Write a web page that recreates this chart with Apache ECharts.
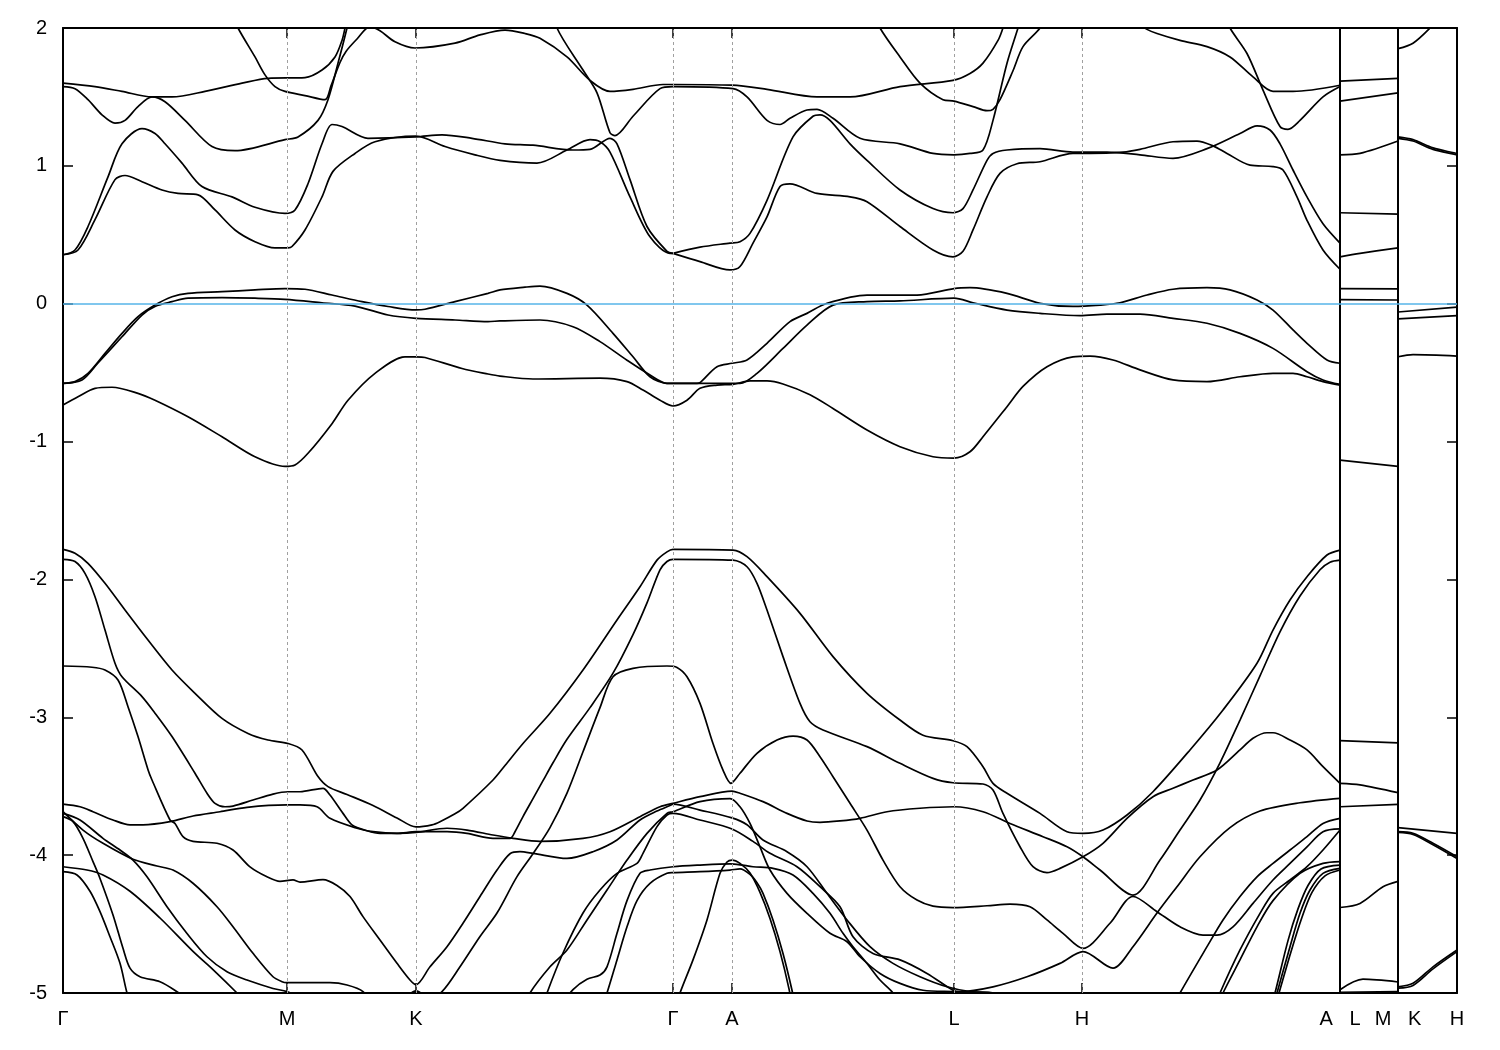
<!DOCTYPE html>
<html><head><meta charset="utf-8">
<script src="https://cdn.jsdelivr.net/npm/echarts@6/dist/echarts.min.js"></script>
<style>html,body{margin:0;padding:0;background:#fff}#c{width:1500px;height:1050px}</style>
</head><body><div id="c"></div>
<script>
// ---- k-path ticks (path distance units) ----
const kTicks = [0, 224, 353, 610, 669, 891, 1019, 1277, 1335, 1394];
const kLabels = ['\u0393', 'M', 'K', '\u0393', 'A', 'L', 'H', 'A   L', 'M   K', 'H'];
const fermiLevel = 0;

// ---- bands along Γ-M-K-Γ-A-L-H-A : [k, E(eV)] ----
const cA = [[0,1.60],[32,1.575],[59,1.54],[89,1.50],[109,1.50],[142,1.54],[179,1.60],[205,1.635],[242,1.64],[259,1.695],[272,1.79],[279,1.91],[282,2.0],[290,2.3]];
const cB = [[0,1.575],[12,1.56],[25,1.48],[39,1.37],[52,1.31],[62,1.33],[75,1.43],[89,1.50],[102,1.465],[122,1.33],[149,1.14],[172,1.11],[222,1.19],[235,1.21],[255,1.33],[265,1.48],[275,1.745],[284,2.0],[290,2.2]];
const cC = [[162,2.2],[175,2.0],[192,1.79],[202,1.66],[212,1.575],[222,1.54],[242,1.51],[262,1.48],[268,1.58],[277,1.75],[283,1.83],[294,1.92],[307,2.01],[317,1.98],[332,1.90],[352,1.855],[392,1.89],[417,1.95],[442,1.985],[462,1.96],[477,1.925],[504,1.79],[527,1.62],[547,1.54],[570,1.555],[600,1.59],[610,1.59],[669,1.585],[704,1.555],[754,1.50],[787,1.50],[837,1.575],[890,1.62],[907,1.67],[920,1.745],[935,1.91],[940,2.0],[945,2.1]];
const cD = [[489,2.2],[494,2.0],[520,1.695],[534,1.53],[547,1.24],[552,1.22],[570,1.36],[597,1.56],[610,1.575],[670,1.56],[684,1.50],[704,1.33],[717,1.30],[727,1.345],[744,1.405],[754,1.41],[770,1.345],[797,1.20],[837,1.16],[870,1.09],[891,1.08],[907,1.09],[920,1.115],[930,1.33],[944,1.745],[955,2.0],[959,2.1]];
const cE = [[0,0.355],[12,0.39],[25,0.56],[45,0.92],[59,1.16],[79,1.27],[92,1.235],[102,1.16],[119,1.02],[139,0.85],[169,0.775],[192,0.70],[222,0.655],[232,0.68],[245,0.87],[259,1.16],[269,1.30],[279,1.285],[305,1.20],[353,1.21],[379,1.225],[409,1.20],[442,1.16],[470,1.15],[510,1.115],[527,1.12],[547,1.20],[554,1.16],[567,0.90],[584,0.56],[604,0.38],[610,0.365]];
const cF = [[0,0.355],[15,0.39],[32,0.61],[52,0.90],[62,0.93],[79,0.885],[99,0.825],[115,0.80],[135,0.79],[152,0.68],[172,0.535],[192,0.45],[212,0.405],[225,0.405],[229,0.415],[242,0.535],[259,0.775],[270,0.96],[292,1.09],[312,1.175],[353,1.215],[382,1.14],[412,1.08],[437,1.04],[474,1.02],[504,1.115],[527,1.19],[537,1.175],[547,1.10],[567,0.775],[587,0.485],[607,0.365],[610,0.365]];
const cG = [[610,0.365],[637,0.41],[667,0.44],[677,0.45],[687,0.51],[704,0.75],[730,1.21],[750,1.36],[757,1.37],[767,1.33],[787,1.16],[804,1.04],[837,0.825],[870,0.69],[890,0.66],[900,0.69],[910,0.825],[924,1.04],[930,1.09],[944,1.115],[977,1.125],[1010,1.10],[1044,1.10],[1077,1.08],[1110,1.055],[1144,1.125],[1177,1.235],[1194,1.29],[1207,1.26],[1217,1.16],[1230,0.97],[1244,0.775],[1260,0.58],[1277,0.44]];
const cH = [[610,0.365],[637,0.305],[667,0.245],[677,0.27],[690,0.44],[704,0.63],[717,0.85],[727,0.87],[754,0.80],[787,0.775],[804,0.74],[837,0.56],[870,0.39],[890,0.34],[900,0.38],[910,0.535],[924,0.775],[937,0.945],[954,1.015],[977,1.03],[1010,1.09],[1027,1.09],[1060,1.10],[1077,1.12],[1110,1.175],[1134,1.18],[1150,1.145],[1164,1.09],[1187,1.005],[1210,0.995],[1220,0.97],[1234,0.775],[1244,0.605],[1260,0.39],[1277,0.25]];
const cI = [[812,2.1],[817,2.0],[837,1.79],[857,1.60],[880,1.48],[891,1.47],[910,1.43],[924,1.40],[930,1.41],[937,1.48],[950,1.69],[960,1.865],[977,2.0],[983,2.1]];
const cJ = [[1072,2.05],[1084,1.99],[1094,1.96],[1117,1.91],[1144,1.865],[1167,1.79],[1190,1.645],[1210,1.54],[1230,1.54],[1277,1.585]];
const cK = [[1162,2.1],[1167,2.0],[1184,1.815],[1200,1.55],[1217,1.285],[1225,1.265],[1237,1.33],[1260,1.50],[1277,1.575]];

const vP1 = [[0,-0.578],[12,-0.565],[25,-0.505],[42,-0.36],[59,-0.215],[75,-0.094],[92,-0.01],[109,0.05],[125,0.075],[159,0.087],[192,0.10],[222,0.11],[242,0.105],[269,0.063],[299,0.015],[325,-0.02],[353,-0.045],[362,-0.04],[392,0.015],[425,0.075],[437,0.10],[462,0.12],[477,0.128],[504,0.075],[524,-0.01],[550,-0.215],[570,-0.385],[587,-0.53],[604,-0.578],[610,-0.578],[634,-0.578],[637,-0.573],[654,-0.457],[669,-0.432],[684,-0.408],[704,-0.287],[727,-0.13],[744,-0.07],[764,0.003],[804,0.063],[854,0.063],[891,0.11],[907,0.116],[944,0.075],[977,0.003],[1010,-0.02],[1037,-0.01],[1057,0.007],[1084,0.063],[1110,0.105],[1144,0.116],[1167,0.10],[1194,0.027],[1210,-0.046],[1230,-0.19],[1244,-0.287],[1264,-0.408],[1277,-0.432]];
const vP2 = [[0,-0.578],[19,-0.553],[35,-0.43],[59,-0.24],[79,-0.082],[92,-0.02],[109,0.015],[125,0.04],[159,0.044],[192,0.04],[222,0.032],[259,0.007],[292,-0.017],[325,-0.082],[353,-0.106],[392,-0.118],[425,-0.13],[437,-0.125],[477,-0.118],[510,-0.167],[537,-0.275],[564,-0.41],[587,-0.517],[604,-0.578],[610,-0.578],[634,-0.578],[677,-0.578],[694,-0.505],[720,-0.324],[744,-0.155],[770,-0.01],[804,0.015],[837,0.02],[891,0.04],[910,0.007],[944,-0.046],[977,-0.07],[1017,-0.087],[1044,-0.075],[1077,-0.075],[1110,-0.106],[1144,-0.142],[1177,-0.215],[1210,-0.324],[1244,-0.493],[1260,-0.553],[1277,-0.585]];
const vP3 = [[0,-0.735],[15,-0.675],[32,-0.614],[49,-0.606],[75,-0.65],[92,-0.70],[125,-0.82],[159,-0.965],[192,-1.11],[222,-1.18],[232,-1.17],[245,-1.085],[269,-0.87],[285,-0.70],[312,-0.505],[342,-0.385],[353,-0.385],[362,-0.39],[399,-0.47],[425,-0.51],[437,-0.525],[470,-0.546],[537,-0.54],[564,-0.565],[580,-0.626],[597,-0.70],[610,-0.742],[624,-0.70],[637,-0.614],[654,-0.59],[670,-0.585],[687,-0.56],[704,-0.56],[720,-0.582],[747,-0.66],[770,-0.76],[804,-0.916],[837,-1.037],[870,-1.11],[891,-1.12],[907,-1.074],[920,-0.965],[944,-0.747],[960,-0.60],[984,-0.457],[1010,-0.385],[1027,-0.38],[1050,-0.408],[1077,-0.48],[1110,-0.553],[1144,-0.565],[1177,-0.53],[1210,-0.505],[1230,-0.505],[1244,-0.53],[1260,-0.565],[1277,-0.59]];

const vQ1 = [[0,-1.782],[12,-1.81],[25,-1.883],[42,-2.028],[62,-2.222],[85,-2.44],[109,-2.657],[132,-2.826],[159,-3.008],[185,-3.117],[205,-3.165],[225,-3.19],[239,-3.237],[255,-3.43],[265,-3.503],[284,-3.56],[310,-3.64],[334,-3.73],[353,-3.795],[369,-3.78],[377,-3.757],[392,-3.70],[400,-3.66],[430,-3.455],[442,-3.35],[460,-3.19],[487,-2.971],[520,-2.657],[554,-2.294],[577,-2.053],[594,-1.86],[604,-1.80],[610,-1.782],[670,-1.787],[684,-1.835],[704,-1.98],[737,-2.246],[770,-2.56],[804,-2.826],[837,-3.02],[860,-3.13],[890,-3.17],[904,-3.213],[920,-3.358],[930,-3.479],[944,-3.551],[977,-3.697],[1004,-3.83],[1020,-3.842],[1040,-3.818],[1064,-3.709],[1090,-3.54],[1127,-3.237],[1160,-2.947],[1194,-2.608],[1210,-2.367],[1227,-2.149],[1244,-1.98],[1264,-1.823],[1277,-1.787]];
const vQ2 = [[0,-1.854],[12,-1.87],[22,-1.956],[32,-2.125],[42,-2.367],[52,-2.608],[59,-2.706],[79,-2.85],[92,-2.97],[109,-3.14],[132,-3.406],[144,-3.551],[152,-3.624],[162,-3.649],[170,-3.644],[190,-3.60],[210,-3.557],[225,-3.54],[237,-3.54],[260,-3.515],[267,-3.564],[280,-3.697],[289,-3.78],[304,-3.823],[317,-3.842],[334,-3.842],[353,-3.83],[384,-3.83],[404,-3.842],[430,-3.878],[447,-3.878],[452,-3.83],[460,-3.72],[470,-3.59],[480,-3.46],[490,-3.33],[504,-3.16],[527,-2.93],[550,-2.68],[570,-2.40],[584,-2.17],[597,-1.93],[604,-1.87],[610,-1.854],[670,-1.86],[684,-1.908],[694,-2.028],[704,-2.222],[720,-2.56],[737,-2.899],[747,-3.032],[760,-3.092],[804,-3.213],[837,-3.334],[870,-3.443],[890,-3.475],[920,-3.484],[930,-3.527],[940,-3.697],[957,-3.939],[970,-4.084],[984,-4.127],[997,-4.096],[1020,-4.012],[1040,-3.914],[1064,-3.733],[1090,-3.576],[1110,-3.515],[1130,-3.455],[1154,-3.383],[1177,-3.237],[1190,-3.152],[1204,-3.112],[1210,-3.112],[1227,-3.165],[1244,-3.237],[1260,-3.358],[1277,-3.479]];
const vQ3 = [[0,-2.628],[29,-2.637],[42,-2.657],[55,-2.73],[65,-2.923],[75,-3.14],[85,-3.38],[89,-3.455],[107,-3.745],[112,-3.77],[120,-3.866],[130,-3.90],[154,-3.914],[170,-3.963],[187,-4.085],[204,-4.157],[217,-4.19],[230,-4.18],[237,-4.195],[260,-4.178],[274,-4.22],[287,-4.30],[300,-4.446],[317,-4.616],[334,-4.785],[347,-4.906],[353,-4.94],[367,-4.81],[384,-4.664],[400,-4.494],[417,-4.30],[434,-4.108],[447,-3.99],[457,-3.975],[470,-3.987],[504,-4.024],[530,-3.975],[554,-3.89],[577,-3.745],[594,-3.68],[607,-3.64],[610,-3.63],[637,-3.673],[669,-3.73],[684,-3.78],[700,-3.89],[724,-3.975],[744,-4.084],[764,-4.277],[784,-4.47],[807,-4.664],[830,-4.785],[857,-4.882],[884,-4.955],[907,-4.99],[930,-5.0],[950,-5.1]];
const vQ4 = [[357,-5.1],[379,-4.99],[397,-4.81],[417,-4.59],[434,-4.42],[454,-4.156],[470,-3.99],[487,-3.80],[504,-3.55],[520,-3.25],[537,-2.93],[550,-2.706],[570,-2.645],[604,-2.628],[614,-2.638],[624,-2.706],[637,-2.899],[650,-3.19],[660,-3.383],[668,-3.479],[677,-3.406],[694,-3.261],[714,-3.165],[730,-3.136],[744,-3.165],[757,-3.286],[770,-3.431],[787,-3.624],[804,-3.818],[820,-4.036],[837,-4.229],[854,-4.326],[870,-4.37],[890,-4.38],[924,-4.367],[947,-4.355],[967,-4.374],[984,-4.47],[1000,-4.567],[1020,-4.676],[1047,-4.494],[1070,-4.30],[1094,-4.41],[1117,-4.52],[1140,-4.58],[1154,-4.58],[1170,-4.52],[1190,-4.35],[1210,-4.18],[1227,-4.06],[1244,-3.94],[1260,-3.83],[1277,-3.81]];
const vR1 = [[0,-3.63],[17,-3.649],[30,-3.685],[50,-3.745],[67,-3.78],[80,-3.78],[107,-3.757],[130,-3.716],[157,-3.685],[184,-3.653],[224,-3.636],[237,-3.636],[254,-3.649],[267,-3.733],[294,-3.805],[310,-3.83],[334,-3.842],[353,-3.835],[384,-3.805],[404,-3.818],[430,-3.854],[450,-3.878],[477,-3.90],[520,-3.878],[547,-3.83],[577,-3.721],[597,-3.649],[610,-3.624],[637,-3.576],[669,-3.535],[677,-3.551],[700,-3.612],[724,-3.697],[744,-3.752],[757,-3.762],[777,-3.752],[797,-3.733],[824,-3.685],[857,-3.66],[891,-3.649],[920,-3.685],[947,-3.77],[980,-3.866],[1004,-3.939],[1020,-4.012],[1037,-4.108],[1070,-4.29],[1097,-4.036],[1117,-3.818],[1137,-3.60],[1157,-3.33],[1177,-3.02],[1197,-2.70],[1217,-2.38],[1237,-2.12],[1257,-1.93],[1267,-1.875],[1277,-1.86]];
const vS1 = [[0,-3.685],[20,-3.818],[40,-3.914],[70,-4.03],[94,-4.079],[110,-4.108],[130,-4.204],[154,-4.374],[170,-4.519],[190,-4.712],[210,-4.882],[219,-4.918],[224,-4.925],[237,-4.925],[267,-4.925],[284,-4.942],[300,-4.99],[310,-5.1]];
const vS2 = [[0,-3.697],[17,-3.745],[40,-3.878],[57,-3.963],[70,-4.036],[84,-4.157],[104,-4.374],[124,-4.568],[144,-4.737],[164,-4.846],[184,-4.906],[210,-4.967],[224,-4.99],[240,-5.05]];
const vS3 = [[0,-3.721],[10,-3.757],[20,-3.878],[30,-4.047],[37,-4.169],[50,-4.434],[60,-4.676],[67,-4.82],[77,-4.882],[97,-4.918],[114,-4.99],[125,-5.05]];
const vS4 = [[0,-4.084],[24,-4.108],[40,-4.144],[67,-4.262],[97,-4.456],[130,-4.698],[150,-4.83],[174,-5.0],[180,-5.05]];
const vS5 = [[0,-4.12],[14,-4.144],[27,-4.262],[37,-4.41],[47,-4.592],[57,-4.785],[64,-5.0],[67,-5.05]];
const vKb = [[335,-5.1],[353,-4.985],[371,-5.1]];
const vU1 = [[462,-5.1],[467,-5.0],[487,-4.81],[504,-4.688],[524,-4.47],[544,-4.253],[564,-4.036],[584,-3.842],[604,-3.697],[610,-3.685],[637,-3.612],[667,-3.59],[677,-3.649],[687,-3.77],[697,-3.94],[707,-4.108],[724,-4.277],[744,-4.422],[767,-4.567],[784,-4.628],[797,-4.737],[817,-4.858],[837,-4.93],[860,-4.98],[890,-4.99],[930,-5.0],[960,-5.1]];
const vU2 = [[480,-5.1],[484,-5.0],[500,-4.71],[520,-4.42],[537,-4.253],[554,-4.132],[574,-4.06],[580,-3.987],[594,-3.793],[604,-3.709],[610,-3.697],[637,-3.745],[669,-3.81],[690,-3.90],[707,-3.987],[734,-4.084],[757,-4.229],[777,-4.374],[790,-4.592],[810,-4.713],[837,-4.76],[864,-4.858],[890,-4.98],[897,-4.99],[930,-4.955],[964,-4.882],[997,-4.785],[1020,-4.70],[1050,-4.82],[1070,-4.664],[1094,-4.42],[1114,-4.229],[1137,-4.012],[1167,-3.80],[1197,-3.68],[1237,-3.62],[1277,-3.588]];
const vU3 = [[497,-5.1],[510,-4.975],[524,-4.90],[537,-4.87],[544,-4.81],[554,-4.567],[564,-4.33],[577,-4.132],[587,-4.108],[610,-4.084],[637,-4.072],[667,-4.064],[677,-4.07],[690,-4.084],[710,-4.096],[730,-4.144],[750,-4.277],[767,-4.422],[780,-4.567],[790,-4.664],[804,-4.785],[817,-4.906],[830,-5.0],[837,-5.1]];
const vU4 = [[539,-5.1],[544,-5.0],[554,-4.76],[564,-4.52],[574,-4.33],[587,-4.205],[604,-4.132],[610,-4.127],[637,-4.12],[667,-4.108],[677,-4.10],[687,-4.14],[694,-4.2],[700,-4.277],[710,-4.47],[720,-4.713],[729,-4.98],[732,-5.1]];
const vU5 = [[613,-5.1],[617,-5.0],[630,-4.76],[644,-4.47],[657,-4.132],[664,-4.05],[669,-4.036],[677,-4.06],[687,-4.13],[697,-4.27],[707,-4.46],[717,-4.70],[726,-4.97],[729,-5.1]];
const vW1 = [[1110,-5.1],[1117,-5.0],[1144,-4.664],[1160,-4.47],[1177,-4.30],[1194,-4.157],[1210,-4.06],[1227,-3.963],[1244,-3.866],[1260,-3.77],[1277,-3.733]];
const vW2 = [[1152,-5.1],[1157,-5.0],[1177,-4.688],[1197,-4.422],[1210,-4.277],[1227,-4.18],[1244,-4.084],[1260,-3.963],[1277,-3.818]];
const vW3 = [[1155,-5.1],[1160,-5.0],[1177,-4.76],[1194,-4.52],[1210,-4.33],[1237,-4.132],[1260,-4.06],[1277,-4.047]];
const vW4 = [[1210,-5.1],[1214,-5.0],[1227,-4.664],[1237,-4.422],[1247,-4.253],[1260,-4.132],[1277,-4.096]];
const vW5 = [[1212,-5.1],[1216,-5.0],[1228,-4.70],[1239,-4.45],[1249,-4.27],[1262,-4.15],[1277,-4.108]];
const vW6 = [[1208,-5.1],[1212,-5.0],[1225,-4.62],[1235,-4.39],[1245,-4.22],[1258,-4.10],[1277,-4.072]];

// ---- L-M segment ----
const lmC1 = [[1277,1.615],[1335,1.635]];
const lmC2 = [[1277,1.47],[1335,1.53]];
const lmC3 = [[1277,1.08],[1297,1.09],[1335,1.18]];
const lmC4 = [[1277,0.66],[1335,0.65]];
const lmC5 = [[1277,0.34],[1297,0.365],[1335,0.405]];
const lmV1 = [[1277,0.11],[1335,0.107]];
const lmV2 = [[1277,0.03],[1335,0.027]];
const lmV3 = [[1277,-1.135],[1335,-1.18]];
const lmV4 = [[1277,-3.17],[1335,-3.185]];
const lmV5 = [[1277,-3.479],[1297,-3.49],[1335,-3.547]];
const lmV6 = [[1277,-3.649],[1335,-3.632]];
const lmV7 = [[1277,-4.38],[1297,-4.35],[1320,-4.229],[1335,-4.19]];
const lmV8 = [[1277,-4.976],[1300,-4.90],[1335,-4.92]];
const lmV9 = [[1277,-4.995],[1335,-4.99]];
// ---- K-H segment ----
const khC1 = [[1335,1.85],[1350,1.89],[1367,2.0],[1372,2.05]];
const khC2 = [[1335,1.21],[1350,1.19],[1370,1.13],[1394,1.09]];
const khC3 = [[1335,1.20],[1350,1.18],[1370,1.12],[1394,1.08]];
const khV1 = [[1335,-0.06],[1394,-0.025]];
const khV2 = [[1335,-0.11],[1394,-0.087]];
const khV3 = [[1335,-0.385],[1350,-0.37],[1394,-0.38]];
const khV4 = [[1335,-3.80],[1394,-3.842]];
const khV5 = [[1335,-3.83],[1350,-3.842],[1370,-3.914],[1394,-4.012]];
const khV6 = [[1335,-3.835],[1350,-3.85],[1370,-3.925],[1394,-4.025]];
const khV7 = [[1335,-4.955],[1350,-4.93],[1370,-4.81],[1394,-4.688]];
const khV8 = [[1335,-4.965],[1350,-4.945],[1370,-4.825],[1394,-4.70]];

const bands = [cA,cB,cC,cD,cE,cF,cG,cH,cI,cJ,cK,vP1,vP2,vP3,vQ1,vQ2,vQ3,vQ4,vR1,vS1,vS2,vS3,vS4,vS5,vKb,vU1,vU2,vU3,vU4,vU5,vW1,vW2,vW3,vW4,vW5,vW6,
  lmC1,lmC2,lmC3,lmC4,lmC5,lmV1,lmV2,lmV3,lmV4,lmV5,lmV6,lmV7,lmV8,lmV9,
  khC1,khC2,khC3,khV1,khV2,khV3,khV4,khV5,khV6,khV7,khV8];
const breakTicks = [kTicks[7], kTicks[8]];
const innerTicks = kTicks.slice(1, -1);

const FONT = 'Liberation Sans';
const chart = echarts.init(document.getElementById('c'), null, {renderer: 'canvas'});
const frameLine = {show: true, onZero: false, lineStyle: {color: '#000', width: 2}};
const tickStyle = {color: '#000', width: 1.5};
const series = bands.map(b => ({
  type: 'line', data: b, symbol: 'none', showSymbol: false, smooth: 0.3, clip: true,
  silent: true, z: 3,
  lineStyle: {color: '#000', width: 1.7}
}));
series.push({
  type: 'line', data: [], symbol: 'none', silent: true, z: 2,
  markLine: {
    silent: true, symbol: ['none', 'none'], label: {show: false}, animation: false,
    data: innerTicks.map(v => ({xAxis: v, lineStyle: {color: '#a0a0a0', width: 1, type: [3, 3]}}))
  }
});
series.push({
  type: 'line', data: [], symbol: 'none', silent: true, z: 4,
  markLine: {
    silent: true, symbol: ['none', 'none'], label: {show: false}, animation: false,
    data: breakTicks.map(v => ({xAxis: v, lineStyle: {color: '#000', width: 2, type: 'solid'}}))
      .concat([{yAxis: fermiLevel, lineStyle: {color: '#56b4e9', width: 1.5, type: 'solid'}}])
  }
});

chart.setOption({
  animation: false,
  backgroundColor: '#fff',
  grid: {left: 63, right: 43, top: 28, bottom: 57, containLabel: false},
  xAxis: [
    {type: 'value', min: 0, max: 1394, position: 'bottom',
     axisLine: frameLine,
     axisTick: {show: true, inside: true, length: 10, customValues: kTicks, lineStyle: tickStyle},
     axisLabel: {show: true, customValues: kTicks, color: '#000', fontSize: 20, fontFamily: FONT, margin: 16,
                 showMinLabel: true, showMaxLabel: true, hideOverlap: false,
                 formatter: v => { const i = kTicks.indexOf(v); return i >= 0 ? kLabels[i] : ''; }},
     splitLine: {show: false}},
    {type: 'value', min: 0, max: 1394, position: 'top',
     axisLine: frameLine,
     axisTick: {show: true, inside: true, length: 10, customValues: kTicks, lineStyle: tickStyle},
     axisLabel: {show: false}, splitLine: {show: false}}
  ],
  yAxis: [
    {type: 'value', min: -5, max: 2, interval: 1, position: 'left',
     axisLine: frameLine,
     axisTick: {show: true, inside: true, length: 10, lineStyle: tickStyle},
     axisLabel: {color: '#000', fontSize: 20, fontFamily: FONT, margin: 16},
     splitLine: {show: false}},
    {type: 'value', min: -5, max: 2, interval: 1, position: 'right',
     axisLine: frameLine,
     axisTick: {show: true, inside: true, length: 10, lineStyle: tickStyle},
     axisLabel: {show: false}, splitLine: {show: false}}
  ],
  series: series
});
</script></body></html>
